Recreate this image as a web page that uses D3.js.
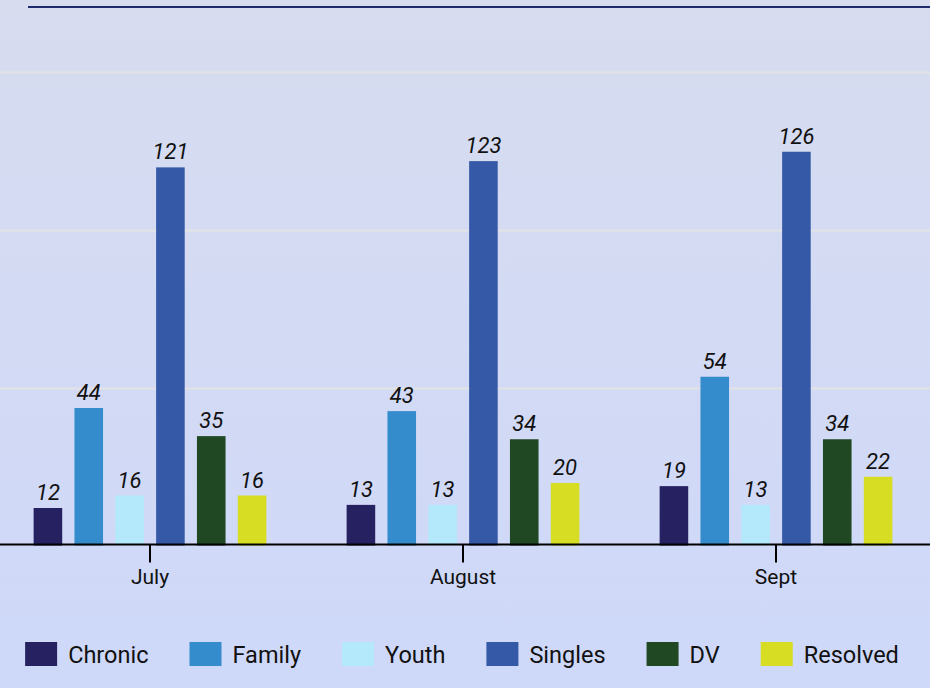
<!DOCTYPE html>
<html>
<head>
<meta charset="utf-8">
<script src="https://cdn.jsdelivr.net/npm/d3@7"></script>
<style>
  html, body { margin: 0; padding: 0; }
  body { width: 930px; height: 688px; overflow: hidden; font-family: Roboto, sans-serif; }
</style>
</head>
<body>
<div id="chart"></div>
<script>
// data
const months = ['July', 'August', 'Sept'];
const series = ['Chronic', 'Family', 'Youth', 'Singles', 'DV', 'Resolved'];
const colors = ['#262262', '#348ccc', '#b3e9fb', '#3559a6', '#1f4823', '#d7dd22'];
const chronic = [12, 13, 19];
const family = [44, 43, 54];
const youth = [16, 13, 13];
const singles = [121, 123, 126];
const dv = [35, 34, 34];
const resolved = [16, 20, 22];
const gridTicks = [50, 100, 150];

let values = [chronic, family, youth, singles, dv, resolved];
let W = 930, H = 688;

let svg = d3.select('#chart').append('svg')
    .attr('width', W)
    .attr('height', H);

let defs = svg.append('defs');
let grad = defs.append('linearGradient')
    .attr('id', 'bg').attr('x1', 0).attr('y1', 0).attr('x2', 0).attr('y2', 1);
grad.append('stop').attr('offset', '0%').attr('stop-color', '#d7dcef');
grad.append('stop').attr('offset', '100%').attr('stop-color', '#ced8f9');

svg.append('rect').attr('width', W).attr('height', H).attr('fill', 'url(#bg)');

let x = d3.scaleBand().domain(months).range([-6.5, 932.5]);
let xInner = d3.scaleBand().domain(series).range([-122.5, 122.5])
    .paddingInner(0.3).paddingOuter(0.15);
let y = d3.scaleLinear().domain([0, 150]).range([545.5, 76.75]);
// gridlines sit a touch wider apart than the bar scale
let yGrid = d3.scaleLinear().domain([50, 150]).range([388.5, 72.5]);

// gridlines
svg.append('g').selectAll('line')
    .data(gridTicks)
    .enter().append('line')
        .attr('x1', 0).attr('x2', W)
        .attr('y1', d => yGrid(d))
        .attr('y2', d => yGrid(d))
        .attr('stroke', '#e3e3e6')
        .attr('stroke-width', 2);

// top rule
svg.append('line')
    .attr('x1', 28).attr('x2', W)
    .attr('y1', 7).attr('y2', 7)
    .attr('stroke', '#1f2a6c')
    .attr('stroke-width', 2);

// bars
let rows = [];
months.forEach(function(m, i){
    series.forEach(function(s, j){
        rows.push({ month: m, key: s, value: values[j][i], color: colors[j] });
    });
});

let cx = d => x(d.month) + x.bandwidth() / 2;

svg.append('g').selectAll('rect')
    .data(rows)
    .enter().append('rect')
        .attr('x', d => cx(d) + xInner(d.key))
        .attr('y', d => y(d.value))
        .attr('width', xInner.bandwidth())
        .attr('height', d => y(0) - y(d.value))
        .attr('fill', d => d.color);

svg.append('g').selectAll('text')
    .data(rows)
    .enter().append('text')
        .attr('x', d => cx(d) + xInner(d.key) + xInner.bandwidth() / 2)
        .attr('y', d => y(d.value) - 8)
        .attr('text-anchor', 'middle')
        .attr('font-style', 'italic')
        .attr('font-size', 22)
        .attr('fill', '#111')
        .text(d => d.value);

// x axis
let xAxis = d3.axisBottom(x).tickSize(18).tickSizeOuter(0).tickPadding(7);
let gx = svg.append('g')
    .attr('transform', `translate(0,${y(0) - 1})`)
    .call(xAxis);
gx.select('.domain').attr('d', `M0,0H${W}`).attr('stroke', '#000').attr('stroke-width', 2);
gx.selectAll('.tick line').attr('stroke', '#000').attr('stroke-width', 2);
gx.selectAll('.tick text')
    .attr('font-family', 'Roboto, sans-serif')
    .attr('font-size', 21)
    .attr('fill', '#111');

// legend
let legend = svg.append('g').attr('transform', 'translate(0,642)');
let items = legend.selectAll('g')
    .data(series)
    .enter().append('g');
items.append('rect')
    .attr('width', 32).attr('height', 24)
    .attr('fill', (d, i) => colors[i]);
items.append('text')
    .attr('x', 43).attr('y', 21)
    .attr('font-size', 23.5)
    .attr('fill', '#111')
    .text(d => d);

let widths = [];
items.each(function(){ widths.push(this.getBBox().width); });
let gap = 41;
let total = d3.sum(widths) + gap * (widths.length - 1);
let pos = 462 - total / 2;
items.attr('transform', function(d, i){
    let t = `translate(${pos},0)`;
    pos += widths[i] + gap;
    return t;
});
</script>
</body>
</html>
